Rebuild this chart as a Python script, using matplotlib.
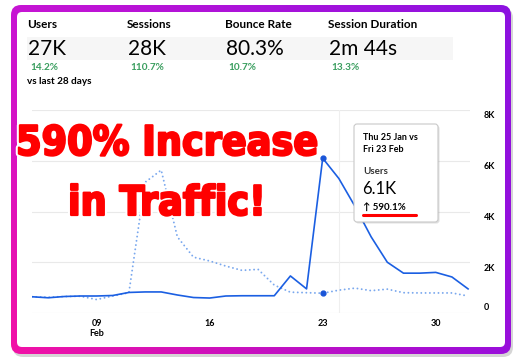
import numpy as np
import matplotlib
matplotlib.use('Agg')
import matplotlib.pyplot as plt
from matplotlib import font_manager as fm
from matplotlib.font_manager import FontProperties
from matplotlib.textpath import TextPath
from matplotlib.patches import FancyBboxPatch, Rectangle
import matplotlib.patheffects as pe
import matplotlib.transforms as mtransforms

W, H = 518, 361

# ---- data (users per day, in thousands) ----
day_idx = np.arange(28)
users_now = [0.64, 0.60, 0.65, 0.67, 0.67, 0.69, 0.81, 0.83, 0.83, 0.71, 0.61, 0.59, 0.67, 0.68,
             0.68, 0.68, 1.46, 0.95, 6.10, 5.30, 4.20, 3.00, 2.00, 1.57, 1.57, 1.60, 1.42, 0.95]
users_prev = [0.64, 0.62, 0.65, 0.66, 0.53, 0.67, 0.80, 5.15, 5.63, 3.00, 2.20, 2.05, 1.85, 1.68,
              1.72, 1.10, 0.82, 0.80, 0.78, 0.90, 0.98, 0.88, 0.94, 0.80, 0.79, 0.79, 0.79, 0.67]
hover_i = 18

y_ticks = [0, 2, 4, 6, 8]
y_labels = ['0', '2K', '4K', '6K', '8K']
x_ticks = [4, 11, 18, 25]
x_labels = ['09\nFeb', '16', '23', '30']

metric_names = ['Users', 'Sessions', 'Bounce Rate', 'Session Duration']
metric_values = ['27K', '28K', '80.3%', '2m 44s']
metric_changes = ['14.2%', '110.7%', '10.7%', '13.3%']

names = {f.name for f in fm.fontManager.ttflist}
ui_font = ['Lato', 'DejaVu Sans'] if 'Lato' in names else ['DejaVu Sans']

# narrowest heavy face we can find for the big title
prefs = ['NotoSans-ExtraCondensedBlack', 'NotoSans-CondensedBlack', 'NotoSans-CondensedBold',
         'LiberationSansNarrow-Bold', 'DejaVuSansCondensed-Bold']
big_prop = None
for p in prefs:
    for f in fm.fontManager.ttflist:
        if p.lower() in f.fname.lower().replace(' ', ''):
            big_prop = FontProperties(fname=f.fname)
            break
    if big_prop is not None:
        break
if big_prop is None:
    big_prop = FontProperties(family='DejaVu Sans', weight='bold')

fig = plt.figure(figsize=(W / 100, H / 100), dpi=100)
fig.patch.set_facecolor('white')

# ---- background frame ----
bg = fig.add_axes([0, 0, 1, 1], zorder=0)
bg.set_xlim(0, W)
bg.set_ylim(H, 0)
bg.axis('off')

shadow = FancyBboxPatch((13, 8), 500, 349, boxstyle='round,pad=0,rounding_size=10',
                        fc='#777777', ec='none', alpha=0.3)
bg.add_patch(shadow)
outer = FancyBboxPatch((11, 5), 500, 349, boxstyle='round,pad=0,rounding_size=10',
                       fc='none', ec='none')
bg.add_patch(outer)
tl = np.array([0.78, 0.08, 0.83])
tr = np.array([0.55, 0.07, 0.88])
bl = np.array([0.95, 0.07, 0.65])
br = np.array([0.60, 0.06, 0.86])
t = np.linspace(0, 1, 120)[None, :, None]
s = np.linspace(0, 1, 80)[:, None, None]
grad = (1 - t) * ((1 - s) * tl + s * bl) + t * ((1 - s) * tr + s * br)
im = bg.imshow(grad, extent=(11, 511, 354, 5), origin='upper', aspect='auto', zorder=1)
im.set_clip_path(outer)
inner = FancyBboxPatch((17, 12), 488, 335, boxstyle='round,pad=0,rounding_size=5',
                       fc='white', ec='none', zorder=2)
bg.add_patch(inner)
bg.add_patch(Rectangle((27, 37), 426, 23, fc='#f6f6f6', ec='none', zorder=3))

# ---- chart ----
ax = fig.add_axes([32 / W, (H - 313) / H, 438 / W, 203 / H], zorder=1)
ax.patch.set_alpha(0)
ax.set_xlim(0, 27.12)
ax.set_ylim(0, 8)
for v in y_ticks:
    ax.axhline(v, color='#e9e9e9', lw=0.8, zorder=0)
ax.axvline(hover_i + 1, color='#efefef', lw=0.8, zorder=0)
ax.plot(day_idx, users_prev, color='#7aa8ee', lw=1.4, linestyle=(0, (0.01, 2.2)),
        dash_capstyle='round', zorder=2)
ax.plot(day_idx, users_now, color='#1b5fe2', lw=1.2, zorder=3)
ax.plot(day_idx[hover_i], users_now[hover_i], 'o', color='#1a55d8', ms=3.5, zorder=4)
ax.plot(day_idx[hover_i], users_prev[hover_i], 'o', color='#1a55d8', ms=3.5, zorder=4)
for sp in ax.spines.values():
    sp.set_visible(False)
ax.set_xticks(x_ticks, x_labels)
ax.tick_params(axis='x', length=0, pad=4, labelsize=6.5)
for lab in ax.get_xticklabels():
    lab.set_fontweight('bold')
    lab.set_family(ui_font)
ax.set_yticks([])
for v, lab in zip(y_ticks, y_labels):
    dy = 5 if v == 0 else -6
    tr_ = mtransforms.offset_copy(ax.get_yaxis_transform(), fig=fig, x=0, y=dy, units='dots')
    ax.text(1.032, v, lab, transform=tr_, ha='left', va='center', fontsize=6.5,
            fontweight='bold', family=ui_font)

# ---- overlay: header, big title, tooltip ----
ov = fig.add_axes([0, 0, 1, 1], zorder=3)
ov.set_xlim(0, W)
ov.set_ylim(H, 0)
ov.axis('off')

name_x = [27, 127, 225, 328]
for i, (n, v, c) in enumerate(zip(metric_names, metric_values, metric_changes)):
    x0 = name_x[i]
    ov.text(x0, 24, n, ha='left', va='center', fontsize=8.5, fontweight='bold', family=ui_font)
    ov.text(x0 + 1, 49, v, ha='left', va='center', fontsize=15, family=ui_font)
    ov.text(x0 + 3, 67, c, ha='left', va='center', fontsize=7.2, fontweight='bold',
            color='#3a9e5f', family=ui_font)
ov.text(27, 81, 'vs last 28 days', ha='left', va='center', fontsize=7.2, fontweight='bold',
        family=ui_font)

# big title: size so it is ~302 px wide, but caps no taller than 40 px
fs0 = 38
fig.canvas.draw()
r = fig.canvas.get_renderer()
probe = ov.text(0, 0, '590% Increase', fontproperties=big_prop)
probe.set_fontsize(fs0)
w1 = probe.get_window_extent(r).width
probe.remove()
cap_px = TextPath((0, 0), 'I', size=fs0, prop=big_prop).get_extents().height * 100 / 72
fs = min(fs0 * 302 / w1, fs0 * 40 / cap_px)

heavy = [pe.withStroke(linewidth=4.5, foreground='white'),
         pe.Stroke(linewidth=1.6, foreground='#ff0000'), pe.Normal()]
for txt, yb in [('590% Increase', 155), ('in Traffic!', 215)]:
    tt = ov.text(167, yb, txt, ha='center', va='baseline', color='#ff0000',
                 path_effects=heavy, fontproperties=big_prop)
    tt.set_fontsize(fs)

tip_shadow = FancyBboxPatch((355.5, 125.5), 84, 98, boxstyle='round,pad=0,rounding_size=3',
                            fc='#000000', ec='none', alpha=0.12)
ov.add_patch(tip_shadow)
tip = FancyBboxPatch((354, 124), 84, 98, boxstyle='round,pad=0,rounding_size=3',
                     fc='white', ec='#c9c9c9', lw=0.8)
ov.add_patch(tip)
ov.text(363, 137, 'Thu 25 Jan vs', ha='left', va='center', fontsize=6.5, fontweight='bold',
        family=ui_font)
ov.text(363, 150, 'Fri 23 Feb', ha='left', va='center', fontsize=6.5, fontweight='bold',
        family=ui_font)
ov.text(363, 171, 'Users', ha='left', va='center', fontsize=7, fontweight='bold',
        color='#333333', family=ui_font)
ov.text(362, 189, '6.1K', ha='left', va='center', fontsize=12, family=ui_font)
ov.text(363, 207, '\u2191 590.1%', ha='left', va='center', fontsize=7, fontweight='bold',
        family=ui_font)
ov.plot([363, 416], [215, 215], color='#ff0000', lw=2.2, solid_capstyle='round')

fig.savefig('out.png', dpi=100, facecolor='white')
